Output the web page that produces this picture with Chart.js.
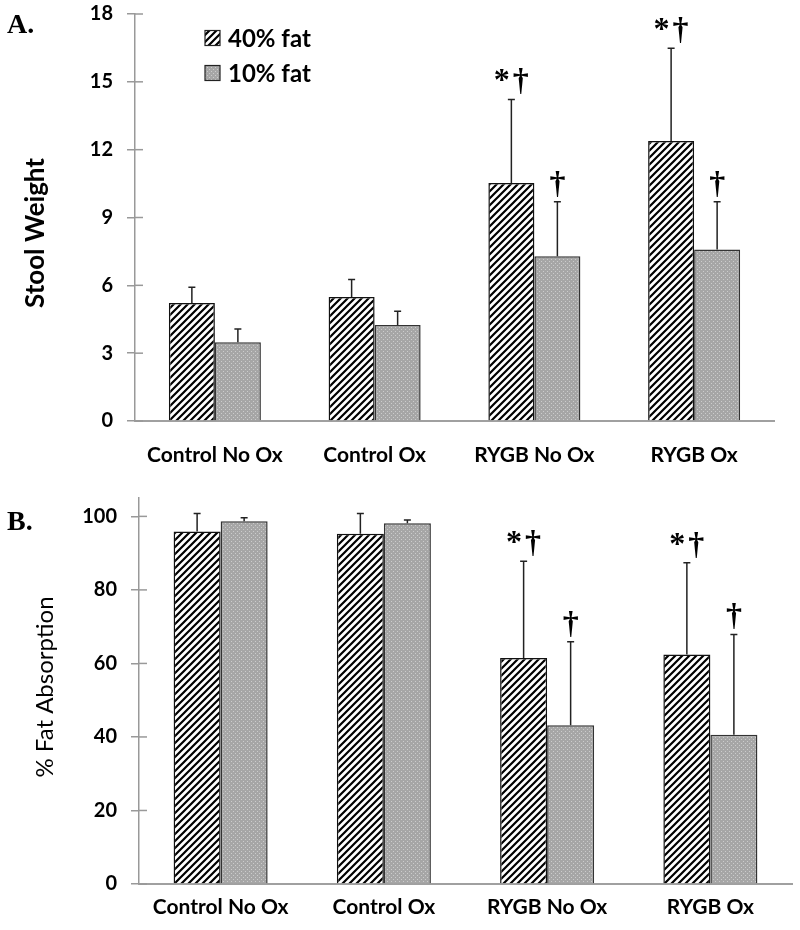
<!DOCTYPE html>
<html>
<head>
<meta charset="utf-8">
<script src="https://cdn.jsdelivr.net/npm/chart.js@4.4.1/dist/chart.umd.min.js"></script>
<style>
  html, body { margin: 0; padding: 0; background: #fff; overflow: hidden; }
  canvas { position: absolute; left: 0; }
  #chartA { top: -12px; }
  #chartB { top: 470px; }
</style>
</head>
<body>
<canvas id="chartA" width="800" height="482"></canvas>
<canvas id="chartB" width="800" height="460"></canvas>
<script>
const categories = ['Control No Ox', 'Control Ox', 'RYGB No Ox', 'RYGB Ox'];
const seriesNames = ['40% fat', '10% fat'];

// A. stool weight (mean + SD)
const stool40 = [5.22, 5.48, 10.53, 12.38];
const stool40Sd = [0.69, 0.78, 3.69, 4.10];
const stool10 = [3.48, 4.25, 7.29, 7.59];
const stool10Sd = [0.59, 0.60, 2.41, 2.11];
const stoolTicks = [0, 3, 6, 9, 12, 15, 18];

// B. % fat absorption (mean + SD)
const absorb40 = [95.9, 95.3, 61.5, 62.4];
const absorb40Sd = [4.9, 5.5, 26.3, 25.0];
const absorb10 = [98.7, 98.1, 43.2, 40.6];
const absorb10Sd = [0.9, 0.9, 22.7, 27.3];
const absorbTicks = [0, 20, 40, 60, 80, 100];

// significance marks above error bars
const marks40 = ['', '', '*†', '*†'];
const marks10 = ['', '', '†', '†'];

function hatch(size) {
  const c = document.createElement('canvas');
  c.width = c.height = size;
  const g = c.getContext('2d');
  g.fillStyle = '#fff';
  g.fillRect(0, 0, size, size);
  g.strokeStyle = '#000';
  g.lineWidth = 2.2;
  g.beginPath();
  g.moveTo(-1, size + 1); g.lineTo(size + 1, -1);
  g.moveTo(-2, 2); g.lineTo(2, -2);
  g.moveTo(size - 2, size + 2); g.lineTo(size + 2, size - 2);
  g.stroke();
  return g.createPattern(c, 'repeat');
}

function dots() {
  const c = document.createElement('canvas');
  c.width = c.height = 4;
  const g = c.getContext('2d');
  g.fillStyle = '#a6a6a6';
  g.fillRect(0, 0, 4, 4);
  g.fillStyle = '#cccccc';
  g.fillRect(1, 1, 1, 1);
  g.fillRect(3, 3, 1, 1);
  return g.createPattern(c, 'repeat');
}

const hatchFill = hatch(7);
const dotFill = dots();

// upper error bars + significance symbols
const errorBars = {
  id: 'errorBars',
  afterDatasetsDraw(chart) {
    const ctx = chart.ctx;
    const y = chart.scales.y;
    chart.data.datasets.forEach((ds, i) => {
      chart.getDatasetMeta(i).data.forEach((bar, j) => {
        const top = y.getPixelForValue(ds.data[j] + ds.sd[j]);
        ctx.save();
        ctx.strokeStyle = '#222';
        ctx.lineWidth = 1.5;
        ctx.beginPath();
        ctx.moveTo(bar.x, bar.y);
        ctx.lineTo(bar.x, top);
        ctx.moveTo(bar.x - 3.5, top);
        ctx.lineTo(bar.x + 3.5, top);
        ctx.stroke();
        const chars = [...(ds.marks[j] || '')];
        ctx.fillStyle = '#000';
        ctx.font = 'bold 32px "Liberation Serif"';
        ctx.textAlign = 'center';
        ctx.textBaseline = 'alphabetic';
        chars.forEach((ch, k) => {
          ctx.fillText(ch, bar.x + (k - (chars.length - 1) / 2) * 19, top - 9);
        });
        ctx.restore();
      });
    });
  }
};

// y ticks that cross the axis
const innerTicks = {
  id: 'innerTicks',
  afterDraw(chart) {
    const y = chart.scales.y;
    const ctx = chart.ctx;
    ctx.save();
    ctx.strokeStyle = '#999';
    ctx.lineWidth = 1.5;
    y.ticks.forEach((t, k) => {
      const py = y.getPixelForTick(k);
      ctx.beginPath();
      ctx.moveTo(y.right, py);
      ctx.lineTo(y.right + 8, py);
      ctx.stroke();
    });
    ctx.restore();
  }
};

// panel letter, rotated y title, legend
const panelText = {
  id: 'panelText',
  afterDraw(chart, args, opts) {
    const ctx = chart.ctx;
    ctx.save();
    ctx.fillStyle = '#000';
    ctx.font = 'bold 28px "Liberation Serif"';
    ctx.textAlign = 'left';
    ctx.textBaseline = 'alphabetic';
    ctx.fillText(opts.letter, 7, opts.letterY);
    if (opts.legendY) {
      chart.data.datasets.forEach((ds, k) => {
        const cy = opts.legendY + k * 35;
        ctx.fillStyle = ds.backgroundColor;
        ctx.fillRect(205, cy - 7.5, 15, 15);
        ctx.strokeStyle = '#222';
        ctx.lineWidth = 1.2;
        ctx.strokeRect(205, cy - 7.5, 15, 15);
        ctx.fillStyle = '#000';
        ctx.font = 'bold 24px Lato';
        ctx.textBaseline = 'middle';
        ctx.fillText(ds.label, 228, cy + 1);
      });
    }
    ctx.translate(opts.titleX, opts.titleY);
    ctx.rotate(-Math.PI / 2);
    ctx.fillStyle = '#000';
    ctx.font = opts.titleFont;
    ctx.textAlign = 'center';
    ctx.textBaseline = 'middle';
    ctx.fillText(opts.title, 0, 0);
    ctx.restore();
  }
};

function makeChart(id, cfg) {
  return new Chart(document.getElementById(id), {
    type: 'bar',
    data: {
      labels: categories,
      datasets: [
        { label: seriesNames[0], data: cfg.d40, sd: cfg.sd40, marks: marks40,
          backgroundColor: hatchFill, borderColor: '#111', borderWidth: 1.5 },
        { label: seriesNames[1], data: cfg.d10, sd: cfg.sd10, marks: marks10,
          backgroundColor: dotFill, borderColor: '#333', borderWidth: 1.5 }
      ]
    },
    options: {
      responsive: false,
      animation: false,
      layout: { padding: cfg.padding },
      datasets: { bar: { categoryPercentage: 0.576, barPercentage: 1 } },
      plugins: {
        legend: { display: false },
        tooltip: { enabled: false },
        panelText: cfg.text
      },
      scales: {
        x: {
          grid: { display: false },
          border: { color: '#a0a0a0', width: 2 },
          ticks: { color: '#000', padding: cfg.xPad, font: { family: 'Lato', weight: 'bold', size: 21 } },
          afterFit: (s) => { s.height = cfg.xHeight; }
        },
        y: {
          min: 0,
          max: cfg.max,
          grid: { drawOnChartArea: false, tickLength: 8, color: '#999', lineWidth: 1.5 },
          border: { color: '#999', width: 1.5 },
          ticks: { color: '#000', padding: 14, font: { family: 'Lato', weight: 'bold', size: 20 } },
          afterBuildTicks: (s) => { s.ticks = cfg.ticks.map(v => ({ value: v })); },
          afterFit: (s) => { s.width = cfg.yWidth; }
        }
      }
    },
    plugins: [errorBars, innerTicks, panelText]
  });
}

// canvas A is shifted 12px up, so its text positions are +12
makeChart('chartA', {
  d40: stool40, sd40: stool40Sd, d10: stool10, sd10: stool10Sd,
  ticks: stoolTicks, max: 18,
  padding: { top: 1, right: 26, left: 0, bottom: 0 },
  yWidth: 135, xHeight: 49, xPad: 14,
  text: { letter: 'A.', letterY: 45, title: 'Stool Weight', titleX: 36, titleY: 245,
          titleFont: 'bold 26px Lato', legendY: 50 }
});

makeChart('chartB', {
  d40: absorb40, sd40: absorb40Sd, d10: absorb10, sd10: absorb10Sd,
  ticks: absorbTicks, max: 105,
  padding: { top: 28, right: 8, left: 0, bottom: 0 },
  yWidth: 139, xHeight: 46, xPad: 3,
  text: { letter: 'B.', letterY: 60, title: '% Fat Absorption', titleX: 45, titleY: 217,
          titleFont: '24px Lato', legendY: 0 }
});
</script>
</body>
</html>
